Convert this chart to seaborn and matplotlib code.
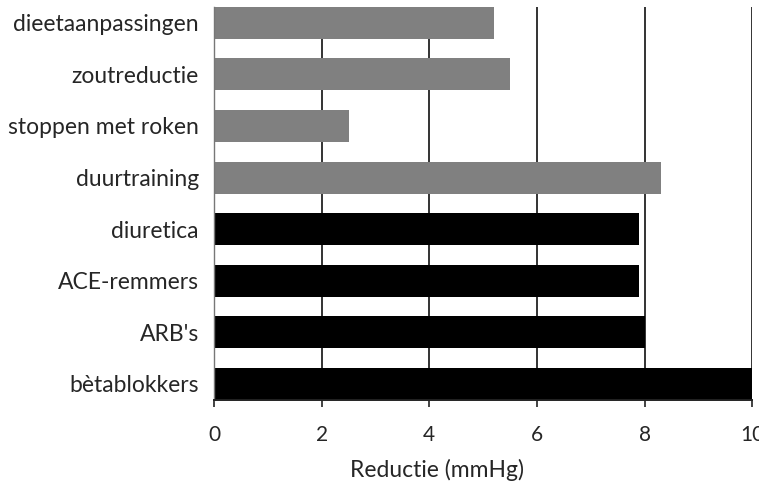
import numpy as np
import pandas as pd
import seaborn as sns
import matplotlib.pyplot as plt

# waarden
maatregelen = [
    "dieetaanpassingen", "zoutreductie", "stoppen met roken", "duurtraining",
    "diuretica", "ACE-remmers", "ARB's", "bètablokkers",
]
reductie = [5.2, 5.5, 2.5, 8.3, 7.9, 7.9, 8.0, 10.0]
groep = ["leefstijl"] * 4 + ["medicatie"] * 4
kleuren = {"leefstijl": "#808080", "medicatie": "#000000"}
xticks = [0, 2, 4, 6, 8, 10]

df = pd.DataFrame({"maatregel": maatregelen, "reductie": reductie, "groep": groep})

sns.set_style("white")
plt.rcParams["font.family"] = ["Lato", "DejaVu Sans"]

fig = plt.figure(figsize=(7.59, 4.87), dpi=100)
ax = fig.add_axes([0.282, 0.179, 0.709, 0.807])

sns.barplot(data=df, x="reductie", y="maatregel", hue="groep", palette=kleuren,
            dodge=False, legend=False, width=0.62, orient="h", ax=ax,
            edgecolor="none", saturation=1)

ax.set_xlim(0, 10)
ax.set_ylim(7.31, -0.31)
ax.set_xticks(xticks)
ax.set_xticklabels([str(t) for t in xticks], fontsize=15)
ax.tick_params(axis="x", direction="out", length=5, width=1.2, color="#222222", pad=13, bottom=True)
ax.tick_params(axis="y", length=0, pad=11, labelsize=16.5)

ax.set_axisbelow(True)
ax.grid(axis="x", color="#333333", linewidth=1.4)
ax.grid(axis="y", visible=False)

for s in ["top", "right"]:
    ax.spines[s].set_visible(False)
ax.spines["left"].set_color("#777777")
ax.spines["left"].set_linewidth(1.0)
ax.spines["bottom"].set_color("#222222")
ax.spines["bottom"].set_linewidth(1.4)

ax.set_ylabel("")
ax.set_xlabel("Reductie (mmHg)", fontsize=16.5)
ax.xaxis.set_label_coords(0.414, -0.178)
ax.xaxis.label.set_verticalalignment("center")

fig.savefig("out.png", dpi=100)
